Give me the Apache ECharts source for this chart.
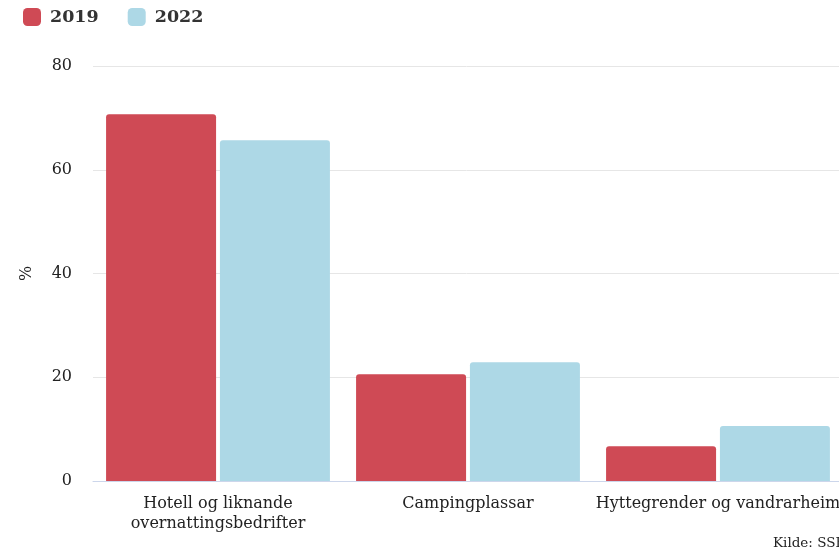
<!DOCTYPE html>
<html>
<head>
<meta charset="utf-8">
<script src="https://cdn.jsdelivr.net/npm/echarts@6/dist/echarts.min.js"></script>
<style>
  html, body { margin: 0; padding: 0; background: #fff; }
  #chart { width: 839px; height: 552px; }
</style>
</head>
<body>
<div id="chart"></div>
<script>
const categories = ['Hotell og liknande\novernattingsbedrifter', 'Campingplassar', 'Hyttegrender og vandrarheim'];
const seriesNames = ['2019', '2022'];
const values2019 = [70.7, 20.6, 6.7];
const values2022 = [65.7, 22.9, 10.6];
const yTicks = { min: 0, max: 80, interval: 20 };
const sourceText = 'Kilde: SSB';

const serif = '"DejaVu Serif", serif';
const colors = ['#cf4a55', '#add8e6'];

const chart = echarts.init(document.getElementById('chart'), null, { renderer: 'canvas' });

chart.setOption({
  animation: false,
  color: colors,
  textStyle: { fontFamily: serif },
  legend: {
    left: 23,
    top: 8,
    padding: 0,
    itemWidth: 18,
    itemHeight: 18,
    itemGap: 29,
    icon: 'roundRect',
    textStyle: { fontFamily: serif, fontSize: 17.5, fontWeight: 'bold', color: '#333', padding: [0, 0, 0, 4] },
    data: seriesNames
  },
  // the plot runs a little past the right edge of the canvas
  grid: { left: 93, width: 750, top: 66, bottom: 71, containLabel: false, outerBoundsMode: 'none' },
  xAxis: {
    type: 'category',
    data: categories,
    axisLine: { lineStyle: { color: '#ccd6eb' } },
    axisTick: { show: false },
    axisLabel: { fontFamily: serif, fontSize: 16, color: '#222', margin: 13, lineHeight: 20, interval: 0 }
  },
  yAxis: {
    type: 'value',
    min: yTicks.min,
    max: yTicks.max,
    interval: yTicks.interval,
    name: '%',
    nameLocation: 'middle',
    nameGap: 58,
    nameRotate: 90,
    nameTextStyle: { fontFamily: serif, fontSize: 16, color: '#222' },
    axisLabel: { fontFamily: serif, fontSize: 16, color: '#222', margin: 21 },
    splitLine: { lineStyle: { color: '#e6e6e6' } },
    axisLine: { show: false },
    axisTick: { show: false }
  },
  series: [
    {
      name: seriesNames[0],
      type: 'bar',
      data: values2019,
      barWidth: 110,
      barGap: '3.5%',
      itemStyle: { borderRadius: [3, 3, 0, 0] }
    },
    {
      name: seriesNames[1],
      type: 'bar',
      data: values2022,
      barWidth: 110,
      itemStyle: { borderRadius: [3, 3, 0, 0] }
    }
  ],
  graphic: [
    {
      type: 'text',
      left: 773,
      top: 536,
      style: { text: sourceText, fontFamily: serif, fontSize: 13.5, fill: '#222' }
    }
  ]
});
</script>
</body>
</html>
